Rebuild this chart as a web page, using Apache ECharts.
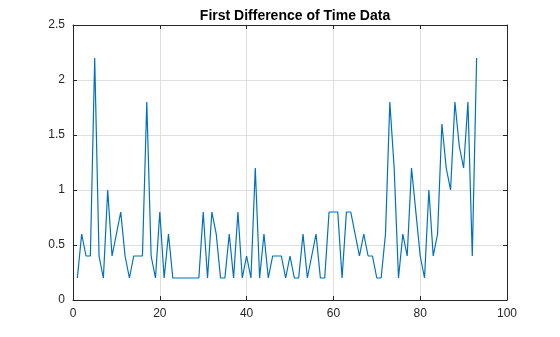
<!DOCTYPE html>
<html>
<head>
<meta charset="utf-8">
<script src="https://cdn.jsdelivr.net/npm/echarts@6/dist/echarts.min.js"></script>
<style>html,body{margin:0;padding:0;background:#fff;}#c{width:560px;height:337px;}</style>
</head>
<body>
<div id="c"></div>
<script>
var titleText = "First Difference of Time Data";
var xValues = [1,2,3,4,5,6,7,8,9,10,11,12,13,14,15,16,17,18,19,20,21,22,23,24,25,26,27,28,29,30,31,32,33,34,35,36,37,38,39,40,41,42,43,44,45,46,47,48,49,50,51,52,53,54,55,56,57,58,59,60,61,62,63,64,65,66,67,68,69,70,71,72,73,74,75,76,77,78,79,80,81,82,83,84,85,86,87,88,89,90,91,92,93];
var diffValues = [0.2,0.6,0.4,0.4,2.2,0.4,0.2,1.0,0.4,0.6,0.8,0.4,0.2,0.4,0.4,0.4,1.8,0.4,0.2,0.8,0.2,0.6,0.2,0.2,0.2,0.2,0.2,0.2,0.2,0.8,0.2,0.8,0.6,0.2,0.2,0.6,0.2,0.8,0.2,0.4,0.2,1.2,0.2,0.6,0.2,0.4,0.4,0.4,0.2,0.4,0.2,0.2,0.6,0.2,0.4,0.6,0.2,0.2,0.8,0.8,0.8,0.2,0.8,0.8,0.6,0.4,0.6,0.4,0.4,0.2,0.2,0.6,1.8,1.2,0.2,0.6,0.4,1.2,0.8,0.4,0.2,1.0,0.4,0.6,1.6,1.2,1.0,1.8,1.4,1.2,1.8,0.4,2.2];
var xTicks = [0,20,40,60,80,100];
var yTicks = [0,0.5,1,1.5,2,2.5];

var pts = xValues.map(function(x,i){return [x,diffValues[i]];});
var font = "Liberation Sans, Arial, sans-serif";
var axisCol = "#262626";
var chart = echarts.init(document.getElementById('c'), null, {renderer:'canvas'});
function baseX(pos, labels){
  return {type:'value', position:pos, min:xTicks[0], max:xTicks[xTicks.length-1], interval:20,
    axisLine:{show:true, onZero:false, lineStyle:{color:axisCol,width:1}},
    axisTick:{show:true, inside:true, length:4, lineStyle:{color:axisCol}},
    axisLabel:{show:labels, color:axisCol, fontFamily:font, fontSize:12, margin:8},
    splitLine:{show:labels, lineStyle:{color:'#dfdfdf', width:1}}};
}
function baseY(pos, labels){
  return {type:'value', position:pos, min:yTicks[0], max:yTicks[yTicks.length-1], interval:0.5,
    axisLine:{show:true, onZero:false, lineStyle:{color:axisCol,width:1}},
    axisTick:{show:true, inside:true, length:4, lineStyle:{color:axisCol}},
    axisLabel:{show:labels, color:axisCol, fontFamily:font, fontSize:12, margin:8,
      formatter:function(v){return String(v);}},
    splitLine:{show:labels, lineStyle:{color:'#dfdfdf', width:1}}};
}
chart.setOption({
  animation:false,
  backgroundColor:'#ffffff',
  title:{text:titleText, left:290, top:4, textAlign:'center',
    textStyle:{fontFamily:font, fontSize:14, fontWeight:'bold', color:'#000'}},
  grid:{left:73, right:53, top:25, bottom:37, containLabel:false},
  xAxis:[baseX('bottom',true), baseX('top',false)],
  yAxis:[baseY('left',true), baseY('right',false)],
  series:[{type:'line', data:pts, xAxisIndex:0, yAxisIndex:0, showSymbol:false,
    lineStyle:{color:'#0072BD', width:1.2}, itemStyle:{color:'#0072BD'}}]
});
</script>
</body>
</html>
